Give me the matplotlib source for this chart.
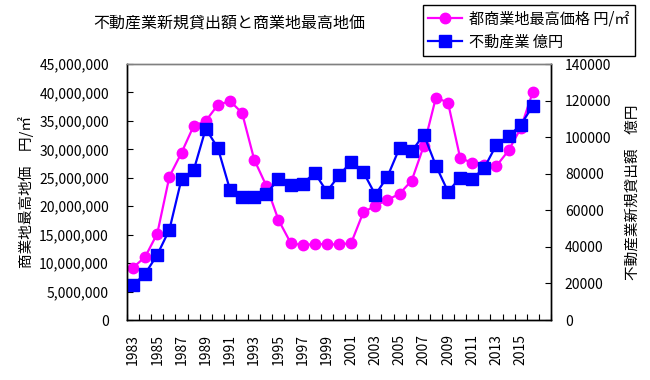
import matplotlib
matplotlib.use("Agg")
import matplotlib.pyplot as plt
from matplotlib.ticker import FuncFormatter, MultipleLocator, FixedLocator

plt.rcParams['font.family'] = ['Noto Sans CJK JP', 'DejaVu Sans']

# --- data ---
years = list(range(1983, 2017))
land_price = [9.2e6, 11.1e6, 15.2e6, 25.2e6, 29.4e6, 34.1e6, 35.0e6, 37.8e6,
              38.5e6, 36.4e6, 28.2e6, 23.6e6, 17.6e6, 13.6e6, 13.1e6, 13.4e6,
              13.3e6, 13.3e6, 13.5e6, 18.9e6, 20.1e6, 21.1e6, 22.2e6, 24.5e6,
              30.6e6, 39.1e6, 38.2e6, 28.5e6, 27.6e6, 27.2e6, 27.1e6, 29.8e6,
              33.7e6, 40.1e6]
loans = [19100, 25300, 35700, 49400, 77100, 81800, 104600, 94100,
         71300, 67400, 67400, 68900, 77100, 73800, 74600, 80400,
         70200, 79100, 86400, 81000, 68500, 78400, 94100, 92200,
         101400, 84400, 70200, 77800, 77100, 83300, 95900, 100600,
         106600, 117200]

title = "不動産業新規貸出額と商業地最高地価"
label_price = "都商業地最高価格 円/㎡"
label_loans = "不動産業 億円"
ylabel_left = "商業地最高地価　円/㎡"
ylabel_right = "不動産業新規貸出額　億円"

x = list(range(len(years)))

fig = plt.figure(figsize=(6.5, 3.8), dpi=100)
ax = fig.add_axes([127/650, 60/380, 424/650, 256/380])
ax2 = ax.twinx()

l1, = ax.plot(x, land_price, color='#FF00FF', lw=1.6, marker='o', ms=7.5,
              label=label_price)
l2, = ax2.plot(x, loans, color='#0000FF', lw=1.6, marker='s', ms=8,
               label=label_loans)

# extra empty slot on the right, as in the original
ax.set_xlim(-0.5, len(years) + 0.5)
ax.set_ylim(0, 45e6)
ax2.set_ylim(0, 140000)

ax.yaxis.set_major_locator(MultipleLocator(5e6))
ax.yaxis.set_major_formatter(FuncFormatter(lambda v, p: f"{int(v):,}"))
ax2.yaxis.set_major_locator(MultipleLocator(20000))
ax2.yaxis.set_major_formatter(FuncFormatter(lambda v, p: f"{int(v)}"))

ax.xaxis.set_major_locator(FixedLocator(x[::2]))
ax.set_xticklabels([str(y) for y in years[::2]], rotation=90)
ax.xaxis.set_minor_locator(FixedLocator([i - 0.5 for i in range(len(years) + 2)]))
ax.tick_params(axis='x', which='major', length=0, pad=10, labelsize=10)
ax.tick_params(axis='x', which='minor', direction='in', length=4, width=0.8)
ax.tick_params(axis='y', direction='in', length=4, width=0.8, labelsize=10, pad=13)
ax2.tick_params(axis='y', direction='in', length=4, width=0.8, labelsize=10, pad=10)

for a in (ax, ax2):
    for s in ('left', 'right', 'bottom'):
        a.spines[s].set_color('black')
        a.spines[s].set_linewidth(1.0)
    a.spines['top'].set_color('#808080')
    a.spines['top'].set_linewidth(1.0)

ax.set_ylabel(ylabel_left, fontsize=10.5, labelpad=4)
ax2.set_ylabel(ylabel_right, fontsize=10.5, labelpad=10)

fig.text(93/650, 1 - 24/380, title, fontsize=11.5, va='center', ha='left')

leg = fig.legend(handles=[l1, l2], loc='upper left',
                 bbox_to_anchor=(423/650, 1 - 5/380), fontsize=10.9,
                 fancybox=False, edgecolor='black', framealpha=1,
                 borderaxespad=0, handlelength=2.2, labelspacing=0.4,
                 borderpad=0.35, handletextpad=0.5)
leg.get_frame().set_linewidth(1.0)

fig.savefig("out.png", dpi=100)
